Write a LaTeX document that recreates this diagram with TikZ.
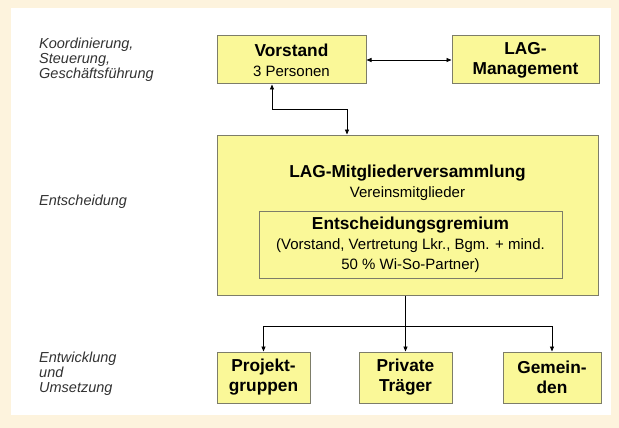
\documentclass[tikz,border=0pt]{standalone}
\usepackage{fontspec}
\setmainfont{Liberation Sans}
\usepackage{tikz}
\usetikzlibrary{arrows.meta,positioning}
\definecolor{pagecream} {RGB}{253,243,221}
\definecolor{boxyellow} {RGB}{250,248,152}
\definecolor{boxedge}   {RGB}{125,125,105}
\definecolor{labelgray} {RGB}{50,50,50}
\newcommand{\boxhead}[1]{{\fontsize{17.3}{20}\selectfont\bfseries #1}}
\tikzset{
  orgbox/.style={draw=boxedge, fill=boxyellow, line width=1pt, align=center,
                 minimum width=#1, minimum height=48pt, inner sep=2pt,
                 font=\fontsize{15}{20}\selectfont},
  orgbox/.default=149pt,
  bigbox/.style ={orgbox=381pt, minimum height=160pt},
  grembox/.style={orgbox=303pt, minimum height=67pt},
  unitbox/.style={orgbox=#1, minimum height=51pt},
  plaintext/.style={align=center, inner sep=0pt, font=\fontsize{15}{20}\selectfont},
  sidelabel/.style={anchor=west, align=left, inner sep=0pt, text=labelgray,
                    font=\fontsize{14.5}{15}\selectfont\itshape},
  arr/.style ={-{Triangle[length=5pt,width=4pt]}, line width=0.8pt},
  darr/.style={{Triangle[length=5pt,width=4pt]}-{Triangle[length=5pt,width=4pt]}, line width=0.8pt},
}
\begin{document}
\begin{tikzpicture}[x=1pt,y=1pt]
  \useasboundingbox (0,0) rectangle (619,-428);
  \fill[pagecream] (0,0) rectangle (619,-428);
  \fill[white] (11,-8) rectangle (611,-415);
  %% left column
  \node[sidelabel] (koord) at (39,-60) {Koordinierung,\\Steuerung,\\Geschäftsführung};
  \node[sidelabel] (entsch) at (39,-202) {Entscheidung};
  \node[sidelabel] (entw) at (39,-374) {Entwicklung\\und\\Umsetzung};
  %% boxes
  \node[orgbox] (vorstand) at (291.5,-60) {\boxhead{Vorstand}\\3 Personen};
  \node[orgbox=147pt, right=85pt of vorstand] (lagm) {\boxhead{LAG-}\\\boxhead{Management}};
  \node[bigbox, below=50pt of vorstand.south west, anchor=north west] (mv) {};
  \node[plaintext] (mvtitle) at ([yshift=-48pt]mv.north) {\boxhead{LAG-Mitgliederversammlung}\\Vereinsmitglieder};
  \node[grembox] (gremium) at ([xshift=3pt,yshift=-110pt]mv.north)
    {\boxhead{Entscheidungsgremium}\\(Vorstand, Vertretung Lkr., Bgm. + mind.\\50 \% Wi-So-Partner)};
  \node[unitbox=93pt, below=56pt of mv.south west, anchor=north west] (projekt) {\boxhead{Projekt-}\\\boxhead{gruppen}};
  \node[unitbox=93pt, right=48pt of projekt] (private) {\boxhead{Private}\\\boxhead{Träger}};
  \node[unitbox=98pt, right=50pt of private] (gemeinden) {\boxhead{Gemein-}\\\boxhead{den}};
  %% connectors
  \draw[darr] (vorstand) -- (lagm);
  \draw[darr] ([xshift=-19.5pt]vorstand.south) -- ++(0,-25) -| ([xshift=-60.5pt]mv.north);
  \coordinate (fork) at ([yshift=25pt]private.north);
  \draw[line width=0.8pt] (private.north |- mv.south) -- (fork);
  \draw[arr] (fork) -- (private.north);
  \draw[arr] (fork) -| (projekt.north);
  \draw[arr] (fork) -| (gemeinden.north);
\end{tikzpicture}
\end{document}
